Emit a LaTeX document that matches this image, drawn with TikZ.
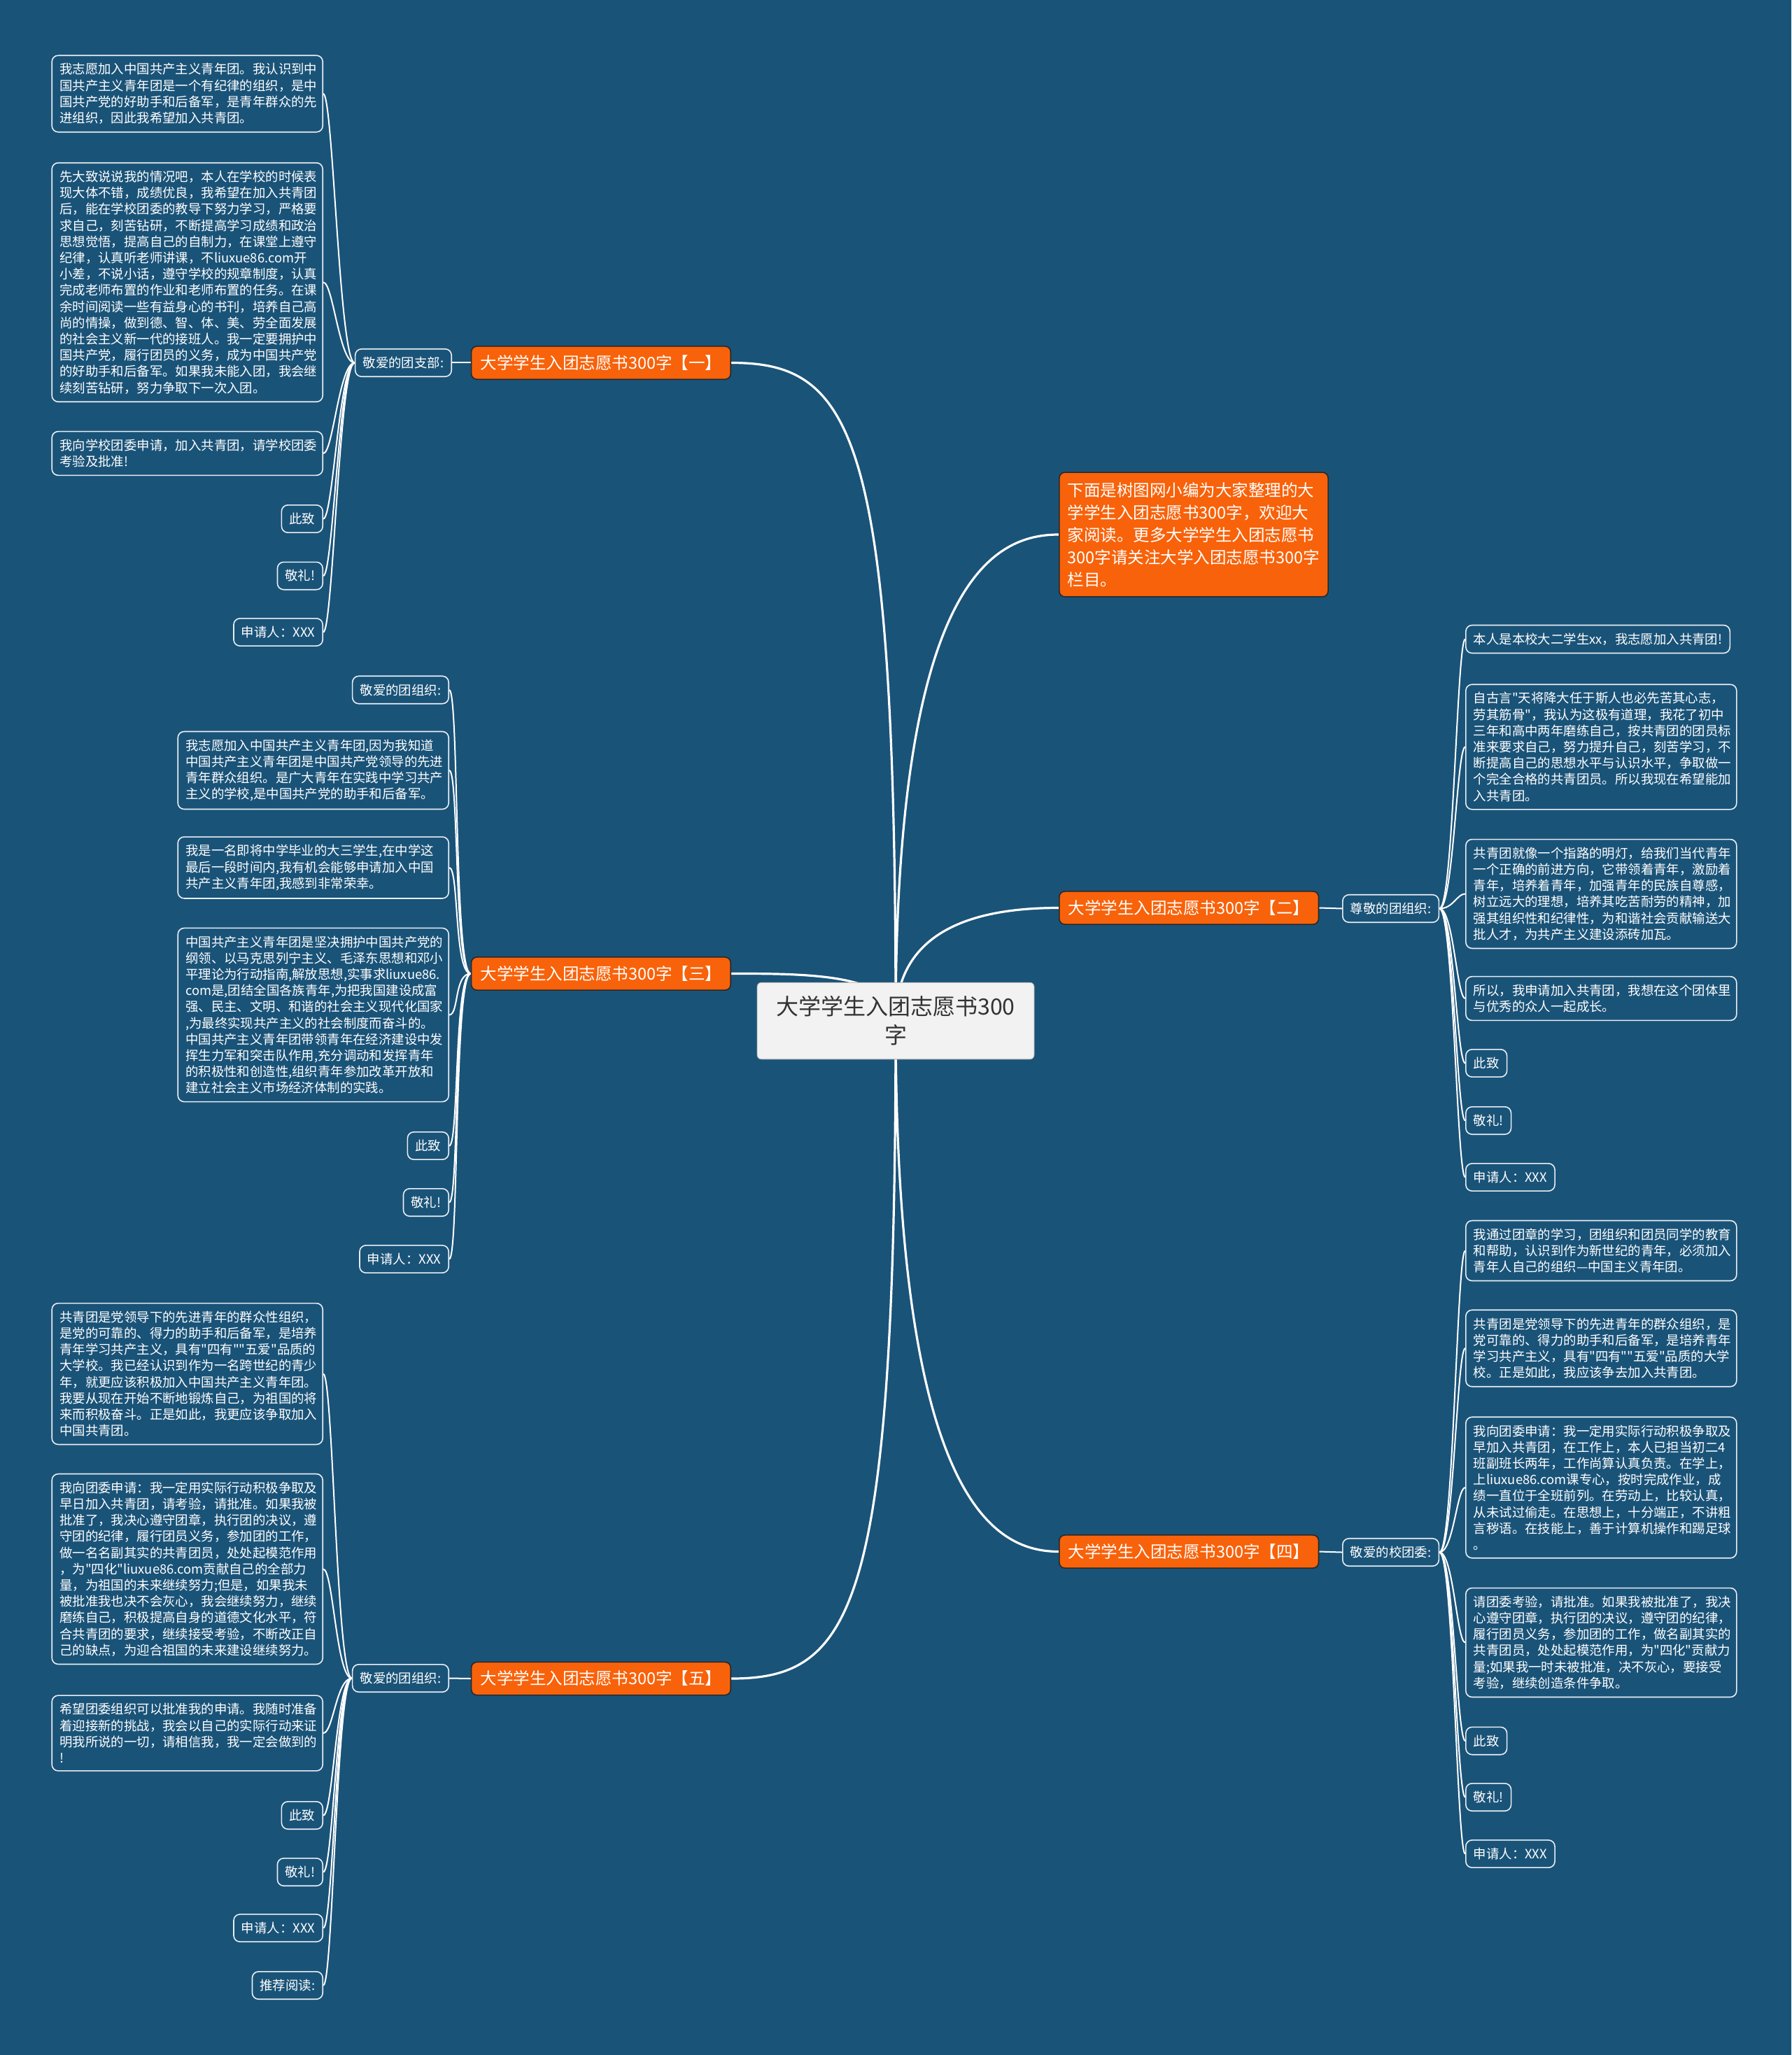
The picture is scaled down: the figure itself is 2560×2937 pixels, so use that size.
\documentclass[tikz,border=0pt]{standalone}
\usepackage{fontspec}
\newfontfamily\cjk{Noto Sans CJK SC}
\usetikzlibrary{backgrounds}
\definecolor{bgblue}{RGB}{26,83,120}
\definecolor{topicorange}{RGB}{248,98,10}
\definecolor{edgegray}{RGB}{40,40,40}
\definecolor{rootgray}{RGB}{242,242,242}
\definecolor{roottext}{RGB}{51,51,51}
\definecolor{boxline}{RGB}{232,238,243}
\tikzset{
  core/.style={rectangle, rounded corners=3pt, draw=rootgray!70!black, fill=rootgray, text=roottext, align=center, minimum width=198pt, inner ysep=9.7pt, font={\cjk\fontsize{16}{20.6}\selectfont}},
  topic/.style={rectangle, rounded corners=4pt, draw=edgegray, line width=0.8pt, fill=topicorange, text=white, inner xsep=6.5pt, inner ysep=6.3pt, font={\cjk\fontsize{11.75}{16}\selectfont}},
  greet/.style={rectangle, rounded corners=4.5pt, draw=boxline, line width=0.8pt, fill=bgblue, text=white, inner xsep=5.5pt, inner ysep=5.6pt, font={\cjk\fontsize{9.2}{11.6}\selectfont}},
  leaf/.style={greet},
  para/.style={leaf, text width=182.5pt, align=left},
  link/.style={draw=white, line width=1.6pt},
  twig/.style={draw=white, line width=1pt}
}
\begin{document}
\begin{tikzpicture}[x=0.5pt, y=-0.5pt]
  \begin{scope}[on background layer]
    \fill[bgblue] (0,0) rectangle (2560,2937);
  \end{scope}
  \useasboundingbox (0,0) rectangle (2560,2937);

  \node[core] (root) at (1280,1459) {大学学生入团志愿书300\\字};

  % main topics
  \node[topic, anchor=east] (t1) at (1045,518.5) {大学学生入团志愿书300字【一】};
  \node[topic, anchor=east] (t3) at (1045,1391.5) {大学学生入团志愿书300字【三】};
  \node[topic, anchor=east] (t5) at (1045,2399) {大学学生入团志愿书300字【五】};
  \node[topic, anchor=west] (t2) at (1513,1297.5) {大学学生入团志愿书300字【二】};
  \node[topic, anchor=west] (t4) at (1513,2217.5) {大学学生入团志愿书300字【四】};
  \node[topic, anchor=west, align=left, inner xsep=6pt, inner ysep=7pt] (intro) at (1513,764) {下面是树图网小编为大家整理的大\\
    学学生入团志愿书300字，欢迎大\\
    家阅读。更多大学学生入团志愿书\\
    300字请关注大学入团志愿书300字\\
    栏目。};

  % greetings
  \node[greet, anchor=east] (g1) at (646,518.5) {敬爱的团支部:};
  \node[greet, anchor=east] (g5) at (642,2398.5) {敬爱的团组织:};
  \node[greet, anchor=west] (g2) at (1918,1298.5) {尊敬的团组织:};
  \node[greet, anchor=west] (g4) at (1918,2218.5) {敬爱的校团委:};

  % section one
  \node[para, anchor=east] (a1) at (462,134) {我志愿加入中国共产主义青年团。我认识到中\\
    国共产主义青年团是一个有纪律的组织，是中\\
    国共产党的好助手和后备军，是青年群众的先\\
    进组织，因此我希望加入共青团。};
  \node[para, anchor=east] (a2) at (462,403.5) {先大致说说我的情况吧，本人在学校的时候表\\
    现大体不错，成绩优良，我希望在加入共青团\\
    后，能在学校团委的教导下努力学习，严格要\\
    求自己，刻苦钻研，不断提高学习成绩和政治\\
    思想觉悟，提高自己的自制力，在课堂上遵守\\
    纪律，认真听老师讲课，不liuxue86.com开\\
    小差，不说小话，遵守学校的规章制度，认真\\
    完成老师布置的作业和老师布置的任务。在课\\
    余时间阅读一些有益身心的书刊，培养自己高\\
    尚的情操，做到德、智、体、美、劳全面发展\\
    的社会主义新一代的接班人。我一定要拥护中\\
    国共产党，履行团员的义务，成为中国共产党\\
    的好助手和后备军。如果我未能入团，我会继\\
    续刻苦钻研，努力争取下一次入团。};
  \node[para, anchor=east] (a3) at (462,648) {我向学校团委申请，加入共青团，请学校团委\\
    考验及批准!};
  \node[leaf, anchor=east] (a4) at (462,741.5) {此致};
  \node[leaf, anchor=east] (a5) at (462,823) {敬礼!};
  \node[leaf, anchor=east] (a6) at (462,903.5) {申请人：XXX};

  % section three
  \node[leaf, anchor=east] (c1) at (642,986) {敬爱的团组织:};
  \node[para, anchor=east] (c2) at (642,1101) {我志愿加入中国共产主义青年团,因为我知道\\
    中国共产主义青年团是中国共产党领导的先进\\
    青年群众组织。是广大青年在实践中学习共产\\
    主义的学校,是中国共产党的助手和后备军。};
  \node[para, anchor=east] (c3) at (642,1240) {我是一名即将中学毕业的大三学生,在中学这\\
    最后一段时间内,我有机会能够申请加入中国\\
    共产主义青年团,我感到非常荣幸。};
  \node[para, anchor=east] (c4) at (642,1450.5) {中国共产主义青年团是坚决拥护中国共产党的\\
    纲领、以马克思列宁主义、毛泽东思想和邓小\\
    平理论为行动指南,解放思想,实事求liuxue86.\\
    com是,团结全国各族青年,为把我国建设成富\\
    强、民主、文明、和谐的社会主义现代化国家\\
    ,为最终实现共产主义的社会制度而奋斗的。\\
    中国共产主义青年团带领青年在经济建设中发\\
    挥生力军和突击队作用,充分调动和发挥青年\\
    的积极性和创造性,组织青年参加改革开放和\\
    建立社会主义市场经济体制的实践。};
  \node[leaf, anchor=east] (c5) at (642,1637.5) {此致};
  \node[leaf, anchor=east] (c6) at (642,1718.5) {敬礼!};
  \node[leaf, anchor=east] (c7) at (642,1799.5) {申请人：XXX};

  % section five
  \node[para, anchor=east] (e1) at (462,1963.5) {共青团是党领导下的先进青年的群众性组织，\\
    是党的可靠的、得力的助手和后备军，是培养\\
    青年学习共产主义，具有"四有""五爱"品质的\\
    大学校。我已经认识到作为一名跨世纪的青少\\
    年，就更应该积极加入中国共产主义青年团。\\
    我要从现在开始不断地锻炼自己，为祖国的将\\
    来而积极奋斗。正是如此，我更应该争取加入\\
    中国共青团。};
  \node[para, anchor=east] (e2) at (462,2242.5) {我向团委申请：我一定用实际行动积极争取及\\
    早日加入共青团，请考验，请批准。如果我被\\
    批准了，我决心遵守团章，执行团的决议，遵\\
    守团的纪律，履行团员义务，参加团的工作，\\
    做一名名副其实的共青团员，处处起模范作用\\
    ，为"四化"liuxue86.com贡献自己的全部力\\
    量，为祖国的未来继续努力;但是，如果我未\\
    被批准我也决不会灰心，我会继续努力，继续\\
    磨练自己，积极提高自身的道德文化水平，符\\
    合共青团的要求，继续接受考验，不断改正自\\
    己的缺点，为迎合祖国的未来建设继续努力。};
  \node[para, anchor=east] (e3) at (462,2477) {希望团委组织可以批准我的申请。我随时准备\\
    着迎接新的挑战，我会以自己的实际行动来证\\
    明我所说的一切，请相信我，我一定会做到的\\
    !};
  \node[leaf, anchor=east] (e4) at (462,2594.5) {此致};
  \node[leaf, anchor=east] (e5) at (462,2675.5) {敬礼!};
  \node[leaf, anchor=east] (e6) at (462,2755.5) {申请人：XXX};
  \node[leaf, anchor=east] (e7) at (462,2837.5) {推荐阅读:};

  % section two
  \node[leaf, anchor=west] (b1) at (2094,913.5) {本人是本校大二学生xx，我志愿加入共青团!};
  \node[para, anchor=west] (b2) at (2094,1067.5) {自古言"天将降大任于斯人也必先苦其心志，\\
    劳其筋骨"，我认为这极有道理，我花了初中\\
    三年和高中两年磨练自己，按共青团的团员标\\
    准来要求自己，努力提升自己，刻苦学习，不\\
    断提高自己的思想水平与认识水平，争取做一\\
    个完全合格的共青团员。所以我现在希望能加\\
    入共青团。};
  \node[para, anchor=west] (b3) at (2094,1277.5) {共青团就像一个指路的明灯，给我们当代青年\\
    一个正确的前进方向，它带领着青年，激励着\\
    青年，培养着青年，加强青年的民族自尊感，\\
    树立远大的理想，培养其吃苦耐劳的精神，加\\
    强其组织性和纪律性，为和谐社会贡献输送大\\
    批人才，为共产主义建设添砖加瓦。};
  \node[para, anchor=west] (b4) at (2094,1427) {所以，我申请加入共青团，我想在这个团体里\\
    与优秀的众人一起成长。};
  \node[leaf, anchor=west] (b5) at (2094,1519.5) {此致};
  \node[leaf, anchor=west] (b6) at (2094,1601.5) {敬礼!};
  \node[leaf, anchor=west] (b7) at (2094,1682.5) {申请人：XXX};

  % section four
  \node[para, anchor=west] (d1) at (2094,1787.5) {我通过团章的学习，团组织和团员同学的教育\\
    和帮助，认识到作为新世纪的青年，必须加入\\
    青年人自己的组织—中国主义青年团。};
  \node[para, anchor=west] (d2) at (2094,1927) {共青团是党领导下的先进青年的群众组织，是\\
    党可靠的、得力的助手和后备军，是培养青年\\
    学习共产主义，具有"四有""五爱"品质的大学\\
    校。正是如此，我应该争去加入共青团。};
  \node[para, anchor=west] (d3) at (2094,2126) {我向团委申请：我一定用实际行动积极争取及\\
    早加入共青团，在工作上，本人已担当初二4\\
    班副班长两年，工作尚算认真负责。在学上，\\
    上liuxue86.com课专心，按时完成作业，成\\
    绩一直位于全班前列。在劳动上，比较认真，\\
    从未试过偷走。在思想上，十分端正，不讲粗\\
    言秽语。在技能上，善于计算机操作和踢足球\\
    。};
  \node[para, anchor=west] (d4) at (2094,2347.5) {请团委考验，请批准。如果我被批准了，我决\\
    心遵守团章，执行团的决议，遵守团的纪律，\\
    履行团员义务，参加团的工作，做名副其实的\\
    共青团员，处处起模范作用，为"四化"贡献力\\
    量;如果我一时未被批准，决不灰心，要接受\\
    考验，继续创造条件争取。};
  \node[leaf, anchor=west] (d5) at (2094,2488) {此致};
  \node[leaf, anchor=west] (d6) at (2094,2568.5) {敬礼!};
  \node[leaf, anchor=west] (d7) at (2094,2649.5) {申请人：XXX};

  \begin{scope}[on background layer]
    % main connectors
    \draw[link] (root.center) .. controls +(0,-840) and +(175,0) .. (t1.east);
    \draw[link] (root.center) .. controls +(0,-629) and +(-93,0) .. (intro.west);
    \draw[link] (root.center) .. controls +(0,-130) and +(-120,0) .. (t2.west);
    \draw[link] (root.center) .. controls +(0,-68) and +(105,0) .. (t3.east);
    \draw[link] (root.center) .. controls +(0,680) and +(-95,0) .. (t4.west);
    \draw[link] (root.center) .. controls +(0,840) and +(175,0) .. (t5.east);
    \draw[twig] (t1.west) -- (g1.east);
    \draw[twig] (t5.west) -- (g5.east);
    \draw[twig] (t2.east) -- (g2.west);
    \draw[twig] (t4.east) -- (g4.west);
    % section one
    \draw[twig] (g1.west) .. controls +(-22,0) and +(14,0) .. (a1.east);
    \draw[twig] (g1.west) .. controls +(-22,0) and +(14,0) .. (a2.east);
    \draw[twig] (g1.west) .. controls +(-22,0) and +(14,0) .. (a3.east);
    \draw[twig] (g1.west) .. controls +(-22,0) and +(14,0) .. (a4.east);
    \draw[twig] (g1.west) .. controls +(-22,0) and +(14,0) .. (a5.east);
    \draw[twig] (g1.west) .. controls +(-22,0) and +(14,0) .. (a6.east);
    % section three
    \draw[twig] (t3.west) .. controls +(-24,0) and +(14,0) .. (c1.east);
    \draw[twig] (t3.west) .. controls +(-24,0) and +(14,0) .. (c2.east);
    \draw[twig] (t3.west) .. controls +(-24,0) and +(14,0) .. (c3.east);
    \draw[twig] (t3.west) .. controls +(-24,0) and +(14,0) .. (c4.east);
    \draw[twig] (t3.west) .. controls +(-24,0) and +(14,0) .. (c5.east);
    \draw[twig] (t3.west) .. controls +(-24,0) and +(14,0) .. (c6.east);
    \draw[twig] (t3.west) .. controls +(-24,0) and +(14,0) .. (c7.east);
    % section five
    \draw[twig] (g5.west) .. controls +(-22,0) and +(14,0) .. (e1.east);
    \draw[twig] (g5.west) .. controls +(-22,0) and +(14,0) .. (e2.east);
    \draw[twig] (g5.west) .. controls +(-22,0) and +(14,0) .. (e3.east);
    \draw[twig] (g5.west) .. controls +(-22,0) and +(14,0) .. (e4.east);
    \draw[twig] (g5.west) .. controls +(-22,0) and +(14,0) .. (e5.east);
    \draw[twig] (g5.west) .. controls +(-22,0) and +(14,0) .. (e6.east);
    \draw[twig] (g5.west) .. controls +(-22,0) and +(14,0) .. (e7.east);
    % section two
    \draw[twig] (g2.east) .. controls +(20,0) and +(-12,0) .. (b1.west);
    \draw[twig] (g2.east) .. controls +(20,0) and +(-12,0) .. (b2.west);
    \draw[twig] (g2.east) .. controls +(20,0) and +(-12,0) .. (b3.west);
    \draw[twig] (g2.east) .. controls +(20,0) and +(-12,0) .. (b4.west);
    \draw[twig] (g2.east) .. controls +(20,0) and +(-12,0) .. (b5.west);
    \draw[twig] (g2.east) .. controls +(20,0) and +(-12,0) .. (b6.west);
    \draw[twig] (g2.east) .. controls +(20,0) and +(-12,0) .. (b7.west);
    % section four
    \draw[twig] (g4.east) .. controls +(20,0) and +(-12,0) .. (d1.west);
    \draw[twig] (g4.east) .. controls +(20,0) and +(-12,0) .. (d2.west);
    \draw[twig] (g4.east) .. controls +(20,0) and +(-12,0) .. (d3.west);
    \draw[twig] (g4.east) .. controls +(20,0) and +(-12,0) .. (d4.west);
    \draw[twig] (g4.east) .. controls +(20,0) and +(-12,0) .. (d5.west);
    \draw[twig] (g4.east) .. controls +(20,0) and +(-12,0) .. (d6.west);
    \draw[twig] (g4.east) .. controls +(20,0) and +(-12,0) .. (d7.west);
  \end{scope}
\end{tikzpicture}
\end{document}
